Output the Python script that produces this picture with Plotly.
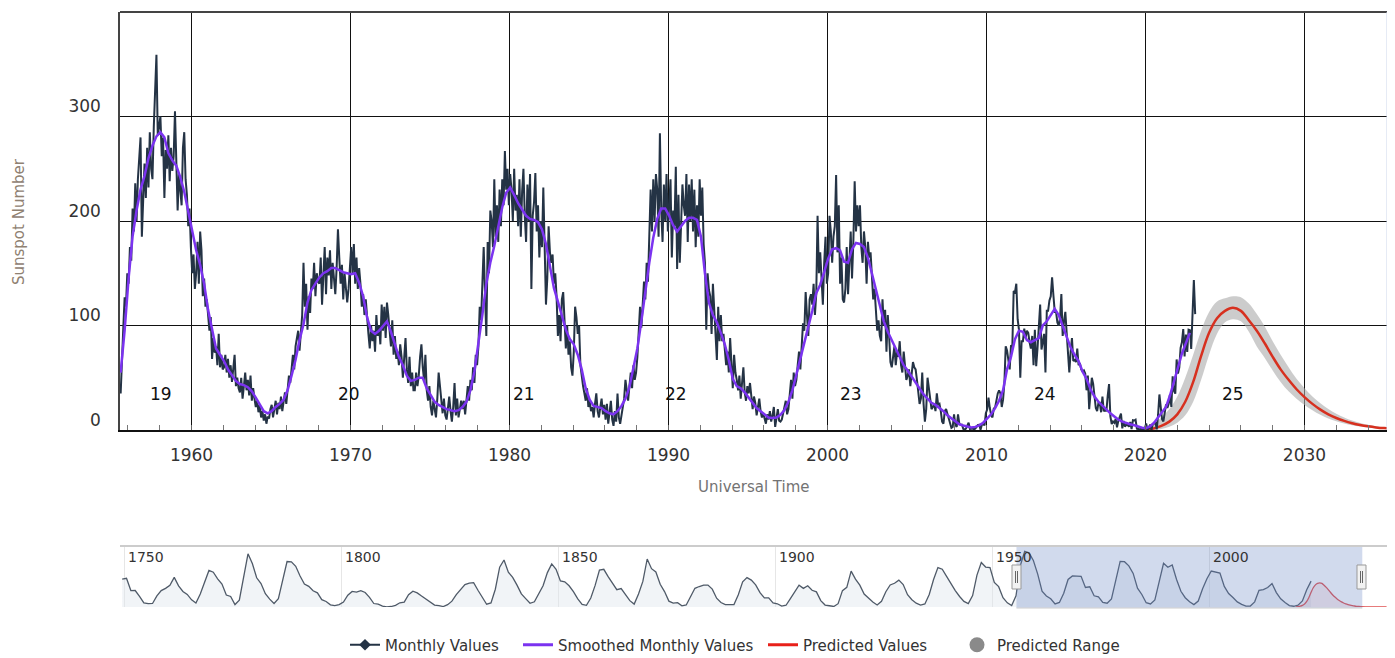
import plotly.graph_objects as go

# The page adds an 8px body margin; with this figure size the capture is unscaled.
OX, OY = 8, 8
W, H = 1379, 668
FONT = "DejaVu Sans"


def px_x(p):
    return (p - OX) / W


def px_y(p):
    return 1 - (p - OY) / H


# ---------------- Monthly values (one row per year, Jan..Dec) ----------------
monthly_1950s_start = 1955.5  # July 1955
monthly_1950s = [
    35, 60, 98, 127, 118, 150,  # 1955 Jul-Dec
    140, 175, 162, 212, 190, 236, 200, 240, 265, 280, 185, 230,  # 1956
    255, 222, 270, 232, 285, 250, 240, 290, 330, 359, 282, 290,  # 1957
    300, 262, 280, 222, 268, 250, 282, 238, 270, 248, 262, 305,  # 1958
    255, 210, 245, 232, 215, 270, 285, 240, 225, 195, 212, 175,  # 1959
]
monthly_1960s = [
    150, 168, 135, 150, 180, 140, 190, 172, 128, 145, 118, 125,  # 1960
    112, 95, 108, 68, 88, 74, 80, 62, 92, 60, 72, 58,  # 1961
    60, 72, 55, 68, 50, 62, 46, 58, 72, 42, 50, 40,  # 1962
    36, 50, 30, 42, 55, 38, 48, 33, 52, 28, 40, 30,  # 1963
    22, 28, 17, 24, 12, 18, 9, 15, 6, 13, 11, 20,  # 1964
    24, 12, 21, 28, 15, 26, 20, 32, 18, 30, 36, 25,  # 1965
    38, 52, 45, 60, 72, 58, 80, 88, 95, 76, 98, 110,  # 1966
    160, 118, 140, 96, 128, 112, 145, 135, 160, 128, 150, 142,  # 1967
    140, 165, 120, 158, 175, 130, 165, 148, 172, 135, 160, 145,  # 1968
    130, 155, 192, 165, 140, 158, 125, 150, 138, 122, 135, 160,  # 1969
]
monthly_1970s = [
    175, 150, 178, 140, 165, 135, 155, 140, 118, 130, 110, 125,  # 1970
    105, 92, 78, 100, 85, 95, 75, 110, 90, 100, 82, 120,  # 1971
    95, 118, 88, 122, 110, 95, 80, 105, 72, 90, 68, 75,  # 1972
    62, 82, 70, 50, 65, 88, 58, 45, 70, 42, 55, 38,  # 1973
    38, 55, 42, 52, 70, 82, 60, 48, 72, 38, 28, 42,  # 1974
    22, 14, 28, 18, 12, 30, 55, 42, 24, 16, 30, 14,  # 1975
    10, 20, 32, 18, 8, 22, 45, 14, 30, 12, 22, 28,  # 1976
    20, 28, 15, 30, 42, 28, 48, 38, 60, 45, 72, 62,  # 1977
    80, 118, 105, 140, 175, 130, 90, 180, 150, 210, 200, 175,  # 1978
    240, 185, 215, 180, 230, 195, 240, 215, 267, 230, 250, 215,  # 1979
]
monthly_1980s = [
    245, 230, 200, 250, 210, 225, 195, 240, 185, 228, 250, 205,  # 1980
    180, 235, 200, 245, 135, 205, 218, 246, 190, 215, 165, 200,  # 1981
    175, 232, 165, 120, 145, 195, 170, 160, 168, 140, 150, 128,  # 1982
    90, 110, 85, 125, 132, 95, 78, 100, 72, 85, 60, 52,  # 1983
    75, 118, 108, 92, 100, 62, 50, 42, 35, 28, 40, 22,  # 1984
    28, 18, 22, 12, 25, 35, 18, 12, 22, 30, 15, 24,  # 1985
    10, 25, 6, 15, 28, 10, 4, 18, 8, 35, 12, 6,  # 1986
    15, 22, 30, 48, 36, 28, 42, 55, 40, 62, 48, 55,  # 1987
    70, 92, 118, 98, 125, 142, 125, 160, 142, 178, 230, 190,  # 1988
    240, 200, 245, 230, 185, 284, 210, 180, 235, 200, 245, 190,  # 1989
]
monthly_1990s = [
    215, 240, 165, 210, 195, 252, 154, 225, 160, 200, 235, 215,  # 1990
    205, 245, 180, 235, 200, 240, 190, 230, 175, 215, 185, 240,  # 1991
    205, 232, 178, 160, 96, 150, 134, 128, 92, 140, 115, 100,  # 1992
    67, 118, 85, 110, 85, 92, 80, 62, 75, 55, 88, 60,  # 1993
    40, 72, 55, 48, 38, 52, 30, 45, 60, 36, 28, 42,  # 1994
    35, 45, 28, 20, 32, 26, 14, 22, 30, 18, 12, 16,  # 1995
    12, 6, 15, 10, 18, 8, 14, 22, 3, 10, 20, 9,  # 1996
    8, 10, 18, 22, 28, 15, 20, 35, 48, 30, 55, 42,  # 1997
    48, 62, 75, 58, 88, 102, 95, 132, 110, 90, 125, 130,  # 1998
    120, 140, 110, 130, 205, 150, 170, 145, 120, 160, 185, 140,  # 1999
]
monthly_2000s = [
    150, 205, 190, 160, 185, 195, 244, 170, 215, 140, 165, 125,  # 2000
    122, 135, 175, 130, 160, 190, 145, 180, 238, 190, 215, 195,  # 2001
    215, 175, 160, 190, 175, 140, 180, 165, 170, 145, 125, 135,  # 2002
    115, 95, 105, 90, 85, 125, 100, 115, 75, 110, 90, 65,  # 2003
    60, 72, 80, 62, 75, 70, 85, 62, 55, 75, 60, 48,  # 2004
    52, 58, 42, 55, 65, 60, 58, 48, 38, 25, 30, 55,  # 2005
    25, 8, 20, 50, 40, 30, 20, 22, 25, 18, 35, 24,  # 2006
    25, 18, 8, 6, 18, 20, 15, 10, 5, 2, 3, 15,  # 2007
    5, 3, 15, 6, 5, 5, 1, 0.5, 1.3, 5, 7, 1,  # 2008
    1.5, 1.5, 0.7, 1.2, 3, 4.8, 5, 0.3, 5, 5.5, 4.5, 16,  # 2009
]
monthly_2010s = [
    19.5, 30.9, 21, 14.5, 12, 20.5, 21.5, 30, 35, 38, 35, 22,  # 2010
    29, 45, 80, 76, 66, 58, 81, 80, 133, 132, 140, 106,  # 2011
    96, 50, 85, 85, 97, 88, 95, 93, 84, 78, 90, 62,  # 2012
    96, 61, 78, 107, 120, 77, 86, 92, 55, 114, 114, 124,  # 2013
    128, 146, 129, 113, 113, 103, 100, 107, 130, 90, 104, 113,  # 2014
    93, 67, 55, 75, 88, 66, 67, 65, 78, 62, 64, 58,  # 2015
    56, 57, 54, 38, 52, 20, 32, 50, 44, 33, 21, 18,  # 2016
    26, 26, 17, 32, 18, 19, 18, 33, 44, 13, 5.7, 8.2,  # 2017
    6.8, 10.7, 2.5, 8.9, 13.1, 15.6, 1.6, 8.7, 3.3, 4.9, 4.9, 3.1,  # 2018
    7.7, 0.8, 9.4, 9.1, 9.9, 1.2, 0.9, 0.5, 1.1, 0.4, 0.5, 1.5,  # 2019
]
monthly_2020s = [
    6.2, 0.2, 1.5, 5.2, 0.2, 5.8, 6.1, 7.5, 0.6, 14.4, 34.0, 21.8,  # 2020
    10.4, 8.2, 17.2, 24.5, 21.2, 25.0, 34.3, 22.0, 51.3, 37.4, 34.8, 67.5,  # 2021
    54.0, 59.7, 78.5, 84.1, 96.5, 70.5, 91.4, 74.6, 96.0, 95.5, 77.6, 113.1,  # 2022
    143.6, 110.9,  # 2023 Jan-Feb
]

# ---------------- Smoothed monthly values (quarterly samples) ----------------
smoothed_1950s_start = 1955.5
smoothed_1950s = [
    55, 95,  # 1955.50, 1955.75
    145, 185, 210, 230,  # 1956
    243, 260, 272, 281,  # 1957
    285, 280, 265, 258,  # 1958
    253, 242, 228, 209,  # 1959
]
smoothed_1960s = [
    190, 172, 158, 140,  # 1960
    115, 95, 78, 72,  # 1961
    66, 58, 52, 47,  # 1962
    44, 43, 41, 37,  # 1963
    31, 24, 18, 16,  # 1964
    18, 22, 25, 29,  # 1965
    38, 52, 67, 86,  # 1966
    101, 122, 134, 140,  # 1967
    146, 150, 152, 155,  # 1968
    155, 153, 151, 150,  # 1969
]
smoothed_1970s = [
    149, 150, 141, 128,  # 1970
    108, 95, 92, 95,  # 1971
    99, 104, 94, 81,  # 1972
    70, 62, 52, 47,  # 1973
    48, 50, 50, 40,  # 1974
    33, 27, 24, 22,  # 1975
    20, 19, 18, 19,  # 1976
    22, 27, 38, 56,  # 1977
    82, 110, 140, 160,  # 1978
    176, 196, 213, 227,  # 1979
]
smoothed_1980s = [
    232, 225, 217, 211,  # 1980
    205, 202, 201, 199,  # 1981
    192, 178, 158, 136,  # 1982
    123, 110, 96, 87,  # 1983
    82, 72, 58, 40,  # 1984
    29, 23, 22, 21,  # 1985
    18, 16, 15, 18,  # 1986
    23, 30, 41, 58,  # 1987
    78, 104, 133, 160,  # 1988
    184, 202, 212, 212,  # 1989
]
smoothed_1990s = [
    205, 196, 190, 195,  # 1990
    200, 203, 203, 201,  # 1991
    185, 150, 122, 110,  # 1992
    103, 93, 82, 67,  # 1993
    49, 42, 40, 36,  # 1994
    31, 25, 21, 18,  # 1995
    15, 12, 11.5, 12,  # 1996
    14.5, 19, 27, 38,  # 1997
    53, 68, 83, 98,  # 1998
    114, 131, 139, 151,  # 1999
]
smoothed_2000s = [
    164, 173, 174, 172,  # 2000
    161, 160, 173, 179,  # 2001
    178, 175, 165, 150,  # 2002
    134, 118, 104, 94,  # 2003
    86, 78, 70, 62,  # 2004
    57, 51, 45, 39,  # 2005
    34, 30, 26, 24,  # 2006
    21, 18, 14, 11,  # 2007
    8, 5.5, 4.3, 3.2,  # 2008
    2.5, 3, 4.5, 7,  # 2009
]
smoothed_2010s = [
    11, 15, 21, 28,  # 2010
    38, 58, 70, 87,  # 2011
    95, 94, 86, 84,  # 2012
    86, 88, 100, 104,  # 2013
    110, 116, 110, 100,  # 2014
    89, 79, 72, 66,  # 2015
    56, 49, 39, 32,  # 2016
    27, 23, 20, 16,  # 2017
    13, 10, 8, 6.5,  # 2018
    5.5, 4.5, 3.5, 2.2,  # 2019
]
smoothed_2020s = [
    2, 3.5, 7, 12,  # 2020
    17, 22, 33, 47,  # 2021
    61, 73, 83, 93,  # 2022
]

# ---------------- Predicted values and range ----------------
pred_years = [2020.0, 2020.5, 2021.0, 2021.5, 2022.0, 2022.5, 2023.0, 2023.5,
              2024.0, 2024.5, 2025.0, 2025.5, 2026.0, 2026.5, 2027.0, 2027.5,
              2028.0, 2028.5, 2029.0, 2029.5, 2030.0, 2030.5, 2031.0, 2031.5,
              2032.0, 2032.5, 2033.0, 2033.5, 2034.0, 2034.5, 2035.0, 2036.0,
              2037.0, 2038.0, 2039.0, 2040.0, 2040.9]
pred_values = [0.5, 1.5, 4, 8, 15, 27, 46, 71,
               93, 107, 114, 117, 114, 105, 95, 83,
               70, 58, 48, 39, 31.5, 25, 19.5, 15,
               11.5, 8.7, 6.5, 4.8, 3.5, 2.5, 1.8, 0.9,
               0.5, 0.3, 0.2, 0.2, 0.2]
pred_low = [0, 0, 1, 3, 7, 14, 27, 48,
            72, 92, 103, 106, 104, 94, 80, 69,
            57, 46, 37, 30, 24, 19, 14.5, 11,
            8.3, 6.2, 4.6, 3.3, 2.4, 1.7, 1.2, 0.6,
            0.3, 0.2, 0.1, 0.1, 0.1]
pred_high = [3, 6, 12, 20, 32, 50, 72, 95,
             113, 123, 126, 128, 127, 121, 111, 99,
             85, 72, 60, 49, 40, 32, 25.5, 20,
             15.5, 12, 9, 6.8, 5, 3.6, 2.6, 1.3,
             0.8, 0.5, 0.4, 0.3, 0.3]

# ---------------- Yearly values for the navigator (1749-2023) ----------------
yearly_start = 1749
yearly_ssn = [
    134.7, 139.0, 79.5, 79.7, 51.2, 20.3, 16.0, 17.0, 54.0, 79.3,  # 1749-1758
    90.0, 104.8, 143.2, 102.0, 75.2, 60.7, 34.8, 19.0, 63.0, 116.3,  # 1759-1768
    176.8, 168.0, 136.0, 110.8, 58.0, 51.0, 11.7, 33.0, 154.2, 257.3,  # 1769-1778
    209.8, 141.3, 113.5, 64.2, 38.0, 17.0, 40.2, 138.2, 220.0, 218.2,  # 1779-1788
    196.8, 149.8, 111.0, 100.0, 78.2, 68.3, 35.5, 26.7, 10.7, 6.8,  # 1789-1798
    11.3, 24.2, 56.7, 75.0, 71.8, 79.2, 70.3, 46.8, 16.8, 13.5,  # 1799-1808
    4.2, 0.0, 2.3, 8.3, 20.3, 23.2, 59.0, 76.3, 68.3, 52.9,  # 1809-1818
    38.5, 24.2, 9.2, 6.3, 2.2, 11.4, 28.2, 59.9, 83.0, 108.5,  # 1819-1828
    115.2, 117.4, 80.8, 44.3, 13.4, 19.5, 85.8, 192.7, 227.3, 168.7,  # 1829-1838
    143.0, 105.5, 63.3, 40.3, 18.1, 25.1, 65.8, 102.7, 166.3, 208.3,  # 1839-1848
    182.5, 126.3, 122.0, 102.7, 74.1, 39.0, 12.7, 8.2, 43.4, 104.4,  # 1849-1858
    178.3, 182.2, 146.6, 112.1, 83.5, 89.2, 57.8, 30.7, 13.9, 62.8,  # 1859-1868
    123.6, 232.0, 185.3, 169.2, 110.1, 74.5, 28.3, 18.9, 20.7, 5.7,  # 1869-1878
    10.0, 53.7, 90.5, 99.0, 106.1, 105.8, 86.3, 42.4, 21.8, 11.2,  # 1879-1888
    10.4, 11.8, 59.5, 121.7, 142.0, 130.0, 106.6, 69.4, 43.8, 44.4,  # 1889-1898
    20.2, 15.7, 4.6, 8.5, 40.8, 70.1, 105.5, 90.1, 102.8, 80.9,  # 1899-1908
    73.2, 30.9, 9.5, 6.0, 2.4, 16.1, 79.0, 95.0, 173.6, 134.6,  # 1909-1918
    105.7, 62.7, 43.5, 23.7, 9.7, 27.9, 74.0, 106.5, 114.7, 129.7,  # 1919-1928
    108.2, 59.4, 35.1, 18.6, 9.2, 14.6, 60.2, 132.8, 190.6, 182.6,  # 1929-1938
    148.0, 113.0, 79.2, 50.8, 27.1, 16.1, 55.3, 154.3, 214.7, 193.0,  # 1939-1948
    190.7, 118.9, 98.3, 45.0, 20.1, 6.6, 54.2, 200.7, 269.3, 261.7,  # 1949-1958
    225.1, 159.0, 76.4, 53.4, 39.9, 15.0, 22.0, 66.8, 132.9, 150.0,  # 1959-1968
    149.4, 148.0, 94.4, 97.6, 54.1, 49.2, 22.5, 18.4, 39.3, 131.0,  # 1969-1978
    220.1, 218.9, 198.9, 162.4, 91.0, 60.5, 20.6, 14.8, 33.9, 123.0,  # 1979-1988
    211.1, 191.8, 203.3, 133.0, 76.1, 44.9, 25.1, 11.6, 28.9, 88.3,  # 1989-1998
    136.3, 173.9, 170.4, 163.6, 99.3, 65.3, 45.8, 24.7, 12.6, 4.2,  # 1999-2008
    4.8, 24.9, 80.8, 84.5, 94.0, 113.3, 69.8, 39.8, 21.7, 7.0,  # 2009-2018
    3.6, 8.8, 29.6, 83.2, 125.0,  # 2019-2023
]

# ---------------- Labels ----------------
cycle_labels = ["19", "20", "21", "22", "23", "24", "25"]
cycle_label_years = [1958.1, 1969.9, 1980.9, 1990.5, 2001.5, 2013.7, 2025.5]
cycle_label_value = 34
y_tick_values = [0, 100, 200, 300]
nav_tick_years = [1750, 1800, 1850, 1900, 1950, 2000]
main_x_range = [1955.5, 2035.19]
nav_x_range = [1749.0, 2041.0]
selected_range = [1955.6, 2035.3]

# ---------------- Build x positions ----------------
monthly_blocks = [
    (monthly_1950s_start, monthly_1950s), (1960, monthly_1960s), (1970, monthly_1970s),
    (1980, monthly_1980s), (1990, monthly_1990s), (2000, monthly_2000s),
    (2010, monthly_2010s), (2020, monthly_2020s),
]
mx, my = [], []
for start, vals in monthly_blocks:
    for i, v in enumerate(vals):
        mx.append(start + (i + 0.5) / 12.0)
        my.append(v)

smoothed_blocks = [
    (smoothed_1950s_start, smoothed_1950s), (1960, smoothed_1960s), (1970, smoothed_1970s),
    (1980, smoothed_1980s), (1990, smoothed_1990s), (2000, smoothed_2000s),
    (2010, smoothed_2010s), (2020, smoothed_2020s),
]
sx, sy = [], []
for start, vals in smoothed_blocks:
    for i, v in enumerate(vals):
        sx.append(start + 0.25 * i + 0.04)
        sy.append(v)

yx = [yearly_start + i + 0.5 for i in range(len(yearly_ssn))]

C_MONTHLY = "#243345"
C_SMOOTH = "#7b33f0"
C_PRED = "#d7301f"
C_RANGE = "rgba(170,170,170,0.6)"

fig = go.Figure()

# predicted range (band)
fig.add_trace(go.Scatter(x=pred_years, y=pred_low, mode="lines", line=dict(width=0, shape="spline"),
                         hoverinfo="skip", showlegend=False, xaxis="x", yaxis="y"))
fig.add_trace(go.Scatter(x=pred_years, y=pred_high, mode="lines", line=dict(width=0, shape="spline"),
                         fill="tonexty", fillcolor=C_RANGE, hoverinfo="skip", showlegend=False,
                         xaxis="x", yaxis="y"))
fig.add_trace(go.Scatter(x=pred_years, y=pred_values, mode="lines",
                         line=dict(color=C_PRED, width=2.5, shape="spline"),
                         showlegend=False, xaxis="x", yaxis="y"))
fig.add_trace(go.Scatter(x=mx, y=my, mode="lines", line=dict(color=C_MONTHLY, width=2),
                         showlegend=False, xaxis="x", yaxis="y"))
fig.add_trace(go.Scatter(x=sx, y=sy, mode="lines", line=dict(color=C_SMOOTH, width=2.5),
                         showlegend=False, xaxis="x", yaxis="y"))

# navigator
fig.add_trace(go.Scatter(x=yx, y=yearly_ssn, mode="lines", line=dict(color="#4f5a68", width=1.3),
                         fill="tozeroy", fillcolor="rgba(225,230,238,0.45)",
                         showlegend=False, hoverinfo="skip", xaxis="x2", yaxis="y2"))
fig.add_trace(go.Scatter(x=pred_years, y=pred_values, mode="lines",
                         line=dict(color="#e05050", width=1.3, shape="spline"),
                         fill="tozeroy", fillcolor="rgba(224,80,80,0.10)",
                         showlegend=False, hoverinfo="skip", xaxis="x2", yaxis="y2"))

# legend-only entries, each in its own legend so they can be placed like the original
fig.add_trace(go.Scatter(x=[None], y=[None], mode="lines+markers", name="Monthly Values",
                         line=dict(color=C_MONTHLY, width=2), legend="legend",
                         marker=dict(symbol="diamond", size=9, color=C_MONTHLY), xaxis="x", yaxis="y"))
fig.add_trace(go.Scatter(x=[None], y=[None], mode="lines", name="Smoothed Monthly Values",
                         line=dict(color=C_SMOOTH, width=3), legend="legend2", xaxis="x", yaxis="y"))
fig.add_trace(go.Scatter(x=[None], y=[None], mode="lines", name="Predicted Values",
                         line=dict(color="#e8201a", width=3), legend="legend3", xaxis="x", yaxis="y"))
fig.add_trace(go.Scatter(x=[None], y=[None], mode="markers", name="Predicted Range",
                         marker=dict(symbol="circle", size=15, color="#8a8a8a"), legend="legend4",
                         xaxis="x", yaxis="y"))

x_dom = [px_x(120), min(1.0, px_x(1387))]

annotations = []
for lab, yr in zip(cycle_labels, cycle_label_years):
    annotations.append(dict(x=yr, y=cycle_label_value, xref="x", yref="y", text=lab, showarrow=False,
                            xanchor="center", yanchor="middle",
                            font=dict(family=FONT, size=17, color="#111111")))
for yr in nav_tick_years:
    annotations.append(dict(x=yr, y=px_y(557), xref="x2", yref="paper", text=str(yr), showarrow=False,
                            xanchor="left", yanchor="middle", xshift=2,
                            font=dict(family=FONT, size=14, color="#333333")))
annotations.append(dict(x=0.0, y=px_y(222), xref="paper", yref="paper", text="Sunspot Number",
                        textangle=-90, showarrow=False, xanchor="left", yanchor="middle",
                        font=dict(family=FONT, size=15, color="#8f8172")))
annotations.append(dict(x=px_x(754), y=px_y(487), xref="paper", yref="paper", text="Universal Time",
                        showarrow=False, xanchor="center", yanchor="middle",
                        font=dict(family=FONT, size=15, color="#737373")))

shapes = [
    # top border and right edge of main plot
    dict(type="line", xref="paper", yref="paper", x0=x_dom[0], x1=x_dom[1], y0=px_y(12), y1=px_y(12),
         line=dict(color="#444444", width=2)),
    dict(type="line", xref="paper", yref="paper", x0=x_dom[1], x1=x_dom[1], y0=px_y(12), y1=px_y(430),
         line=dict(color="#ccd6eb", width=1)),
    # navigator top outline
    dict(type="line", xref="paper", yref="paper", x0=x_dom[0], x1=x_dom[1], y0=px_y(546), y1=px_y(546),
         line=dict(color="#cccccc", width=2)),
    # navigator selected area mask
    dict(type="rect", xref="x2", yref="paper", x0=selected_range[0], x1=selected_range[1],
         y0=px_y(608), y1=px_y(547), fillcolor="rgba(102,133,194,0.3)", line=dict(width=0), layer="above"),
    dict(type="line", xref="x2", yref="paper", x0=selected_range[0], x1=selected_range[1],
         y0=px_y(608), y1=px_y(608), line=dict(color="#cccccc", width=1)),
]
# navigator handles (pixel positions of the two drag handles)
for hx in (1012, 1357):
    shapes.append(dict(type="rect", xref="paper", yref="paper", x0=px_x(hx), x1=px_x(hx + 9),
                       y0=px_y(589), y1=px_y(565), fillcolor="#f2f2f2",
                       line=dict(color="#999999", width=1), layer="above"))
    for lx in (hx + 3.5, hx + 5.5):
        shapes.append(dict(type="line", xref="paper", yref="paper", x0=px_x(lx), x1=px_x(lx),
                           y0=px_y(583), y1=px_y(571), line=dict(color="#666666", width=1),
                           layer="above"))

legend_common = dict(orientation="h", xanchor="left", yanchor="middle", y=px_y(645),
                     font=dict(family=FONT, size=15, color="#333333"), bgcolor="rgba(0,0,0,0)",
                     itemwidth=30, borderwidth=0)

fig.update_layout(
    width=W, height=H,
    margin=dict(l=0, r=0, t=0, b=0),
    paper_bgcolor="white", plot_bgcolor="white",
    font=dict(family=FONT, color="#333333"),
    showlegend=True,
    legend=dict(x=px_x(385 - 40), **legend_common),
    legend2=dict(x=px_x(558 - 40), **legend_common),
    legend3=dict(x=px_x(803 - 40), **legend_common),
    legend4=dict(x=px_x(997 - 40), **legend_common),
    xaxis=dict(domain=x_dom, range=main_x_range, anchor="y",
               tickmode="linear", tick0=1960, dtick=10, tickformat="d",
               showgrid=True, gridcolor="#111111", gridwidth=1,
               showline=True, linecolor="#111111", linewidth=2,
               ticks="inside", ticklen=5, tickcolor="#666666",
               minor=dict(tick0=1960, dtick=2, ticks="inside", ticklen=5, tickcolor="#777777",
                          showgrid=False),
               zeroline=False, ticklabelstandoff=9,
               tickfont=dict(family=FONT, size=17, color="#333333"), fixedrange=True),
    yaxis=dict(domain=[px_y(430), px_y(12)], range=[0, 400], anchor="x",
               tickmode="array", tickvals=y_tick_values,
               showgrid=True, gridcolor="#111111", gridwidth=1,
               showline=True, linecolor="#444444", linewidth=1.5,
               ticks="", zeroline=False, ticklabelstandoff=14, ticklabelshift=-10,
               tickfont=dict(family=FONT, size=17, color="#333333"), fixedrange=True),
    xaxis2=dict(domain=x_dom, range=nav_x_range, anchor="y2",
                tickmode="array", tickvals=nav_tick_years, showticklabels=False,
                showgrid=True, gridcolor="#e6e6e6", gridwidth=1,
                showline=False, zeroline=False, ticks="", fixedrange=True),
    yaxis2=dict(domain=[px_y(607), px_y(547)], range=[0, 290], anchor="x2",
                showgrid=False, showticklabels=False, zeroline=False, showline=False,
                ticks="", fixedrange=True),
    annotations=annotations,
    shapes=shapes,
)

fig.write_html("out.html")
